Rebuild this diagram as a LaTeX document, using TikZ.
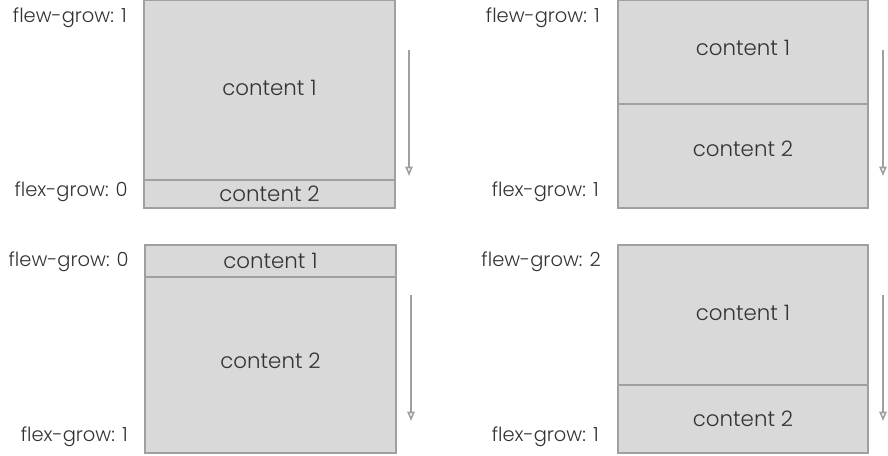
\documentclass[tikz,border=0pt]{standalone}
\usepackage{fontspec}
\setmainfont{Poppins}[UprightFont={* Light}, Numbers=Proportional]
\usetikzlibrary{arrows.meta}
\definecolor{boxfill}{HTML}{D9D9D9}
\definecolor{boxline}{HTML}{A0A0A0}
\definecolor{txt}{HTML}{333333}

\begin{document}
\begin{tikzpicture}[x=0.75pt, y=-0.75pt,
                    every node/.style={font=\fontsize{16}{18}\selectfont, text=txt},
                    item/.style={draw=boxline, fill=boxfill, line width=0.9pt,
                                 rectangle, inner sep=0pt},
                    wide/.style={minimum width=188.25pt},
                    narrow/.style={minimum width=187.5pt},
                    lbl/.style={anchor=east, inner sep=0pt,
                                font=\fontsize{14.6}{17}\selectfont},
                    flow/.style={draw=boxline, line width=1.2pt,
                                 -{Triangle[open, length=7pt, width=5.5pt]}}]
    \useasboundingbox (0,0) rectangle (888,455);

    % top left: 1 / 0
    \node[item, wide, minimum height=134.6pt, text depth=3pt] (tlA) at (269.5,90.2) {content 1};
    \node[item, wide, minimum height=21pt]    (tlB) at (269.5,194)  {content 2};
    \node[lbl] (tlgA) at (127,18)  {flew-grow: 1};
    \node[lbl] (tlgB) at (128,192) {flex-grow: 0};
    \coordinate (tlS) at (409,50);
    \coordinate (tlE) at (409,176);
    \draw[flow] (tlS) -- (tlE);

    % top right: 1 / 1
    \node[item, narrow, minimum height=77.6pt, text depth=6pt] (trA) at (743,52.2) {content 1};
    \node[item, narrow, minimum height=78pt, text depth=10.5pt] (trB) at (743,156) {content 2};
    \node[lbl] (trgA) at (600,18)  {flew-grow: 1};
    \node[lbl] (trgB) at (599,192) {flex-grow: 1};
    \coordinate (trS) at (883,50);
    \coordinate (trE) at (883,176);
    \draw[flow] (trS) -- (trE);

    % bottom left: 0 / 1
    \node[item, wide, minimum height=24pt]  (blA) at (270.5,261) {content 1};
    \node[item, wide, minimum height=132pt, text depth=7pt] (blB) at (270.5,365) {content 2};
    \node[lbl] (blgA) at (129,262) {flew-grow: 0};
    \node[lbl] (blgB) at (128,437) {flex-grow: 1};
    \coordinate (blS) at (411,295);
    \coordinate (blE) at (411,421);
    \draw[flow] (blS) -- (blE);

    % bottom right: 2 / 1
    \node[item, narrow, minimum height=105pt, text depth=3pt] (brA) at (743,315) {content 1};
    \node[item, narrow, minimum height=51pt]  (brB) at (743,419) {content 2};
    \node[lbl] (brgA) at (601,262) {flew-grow: 2};
    \node[lbl] (brgB) at (599,437) {flex-grow: 1};
    \coordinate (brS) at (883,295);
    \coordinate (brE) at (883,421);
    \draw[flow] (brS) -- (brE);
\end{tikzpicture}
\end{document}
